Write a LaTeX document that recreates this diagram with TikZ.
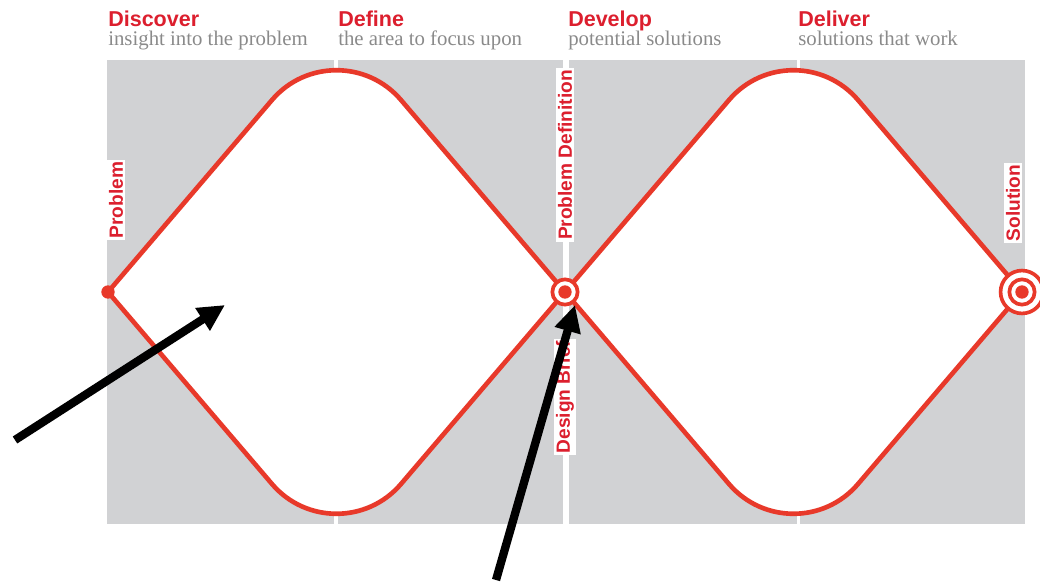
\documentclass[tikz,border=0pt]{standalone}
\usepackage{fontspec}
\setmainfont{Liberation Serif}
\setsansfont{Liberation Sans}
\usetikzlibrary{positioning, arrows.meta}
\definecolor{LineRed}{HTML}{E8392A}
\definecolor{TextRed}{HTML}{DC1F2E}
\definecolor{PanelGray}{HTML}{D1D2D4}
\definecolor{CaptionGray}{HTML}{8A8A8A}

\begin{document}
\begin{tikzpicture}[
  x=0.025cm, y=-0.025cm,
  panel/.style={fill=PanelGray, draw=none},
  route/.style={draw=LineRed, line width=3.3pt, line join=miter},
  phase/.style={
    anchor=base west, inner sep=0pt, text=TextRed,
    font=\sffamily\bfseries\fontsize{15.3}{18}\selectfont
  },
  caption/.style={
    anchor=base west, inner sep=0pt, text=CaptionGray,
    font=\fontsize{14.8}{18}\selectfont
  },
  marker/.style={
    rotate=90, fill=white, text=TextRed, inner sep=1.2pt,
    font=\sffamily\bfseries\fontsize{13.6}{16}\selectfont
  },
  dot/.style={circle, fill=LineRed, inner sep=0pt, minimum size=9.5pt},
  ring/.style={circle, draw=LineRed, line width=2.6pt, fill=white, inner sep=0pt},
  pointer/.style={-{Triangle[length=19pt, width=18pt]}, line width=5.9pt, black}
]
  \useasboundingbox (0,0) rectangle (1040,584);

  % Panels
  \foreach \xa/\xb in {107/334, 338/563, 569/797, 800/1025}
    \fill[panel] (\xa,60) rectangle (\xb,524);

  % Phase headings
  \node[phase] (discover) at (108,27) {Discover};
  \node[caption] (discoverSub) at (108,46) {insight into the problem};
  \node[phase] (define) at (338,27) {Define};
  \node[caption] (defineSub) at (338,46) {the area to focus upon};
  \node[phase] (develop) at (568,27) {Develop};
  \node[caption] (developSub) at (568,46) {potential solutions};
  \node[phase] (deliver) at (798,27) {Deliver};
  \node[caption] (deliverSub) at (798,46) {solutions that work};

  % Diamonds
  \foreach \a in {108,565} {
    \filldraw[route, fill=white] (\a,292)
      -- ({\a+164},100) .. controls ({\a+197.9},60.3) and ({\a+259.1},60.3) .. ({\a+293},100)
      -- ({\a+457},292)
      -- ({\a+293},484) .. controls ({\a+259.1},523.7) and ({\a+197.9},523.7) .. ({\a+164},484)
      -- cycle;
  }

  % Markers
  \node[dot] (problem) at (108,292) {};
  \node[ring, minimum size=18pt] (briefRing) at (565,292) {};
  \node[dot] (brief) at (565,292) {};
  \node[ring, minimum size=30.5pt] (solutionOuter) at (1022,292) {};
  \node[ring, minimum size=18pt] (solutionInner) at (1022,292) {};
  \node[dot] (solution) at (1022,292) {};

  % Labels
  \node[marker] (problemLabel) at (116,200) {Problem};
  \node[marker] (definitionLabel) at (565,155) {Problem Definition};
  \node[marker] (briefLabel) at (565,397) {Design Brief};
  \node[marker] (solutionLabel) at (1013,203) {Solution};

  % Pointers
  \coordinate (tailA) at (15,440);
  \coordinate (tipA) at (225,305);
  \coordinate (tailB) at (496,580);
  \coordinate (tipB) at (575,305);
  \draw[pointer] (tailA) -- (tipA);
  \draw[pointer] (tailB) -- (tipB);
\end{tikzpicture}
\end{document}
